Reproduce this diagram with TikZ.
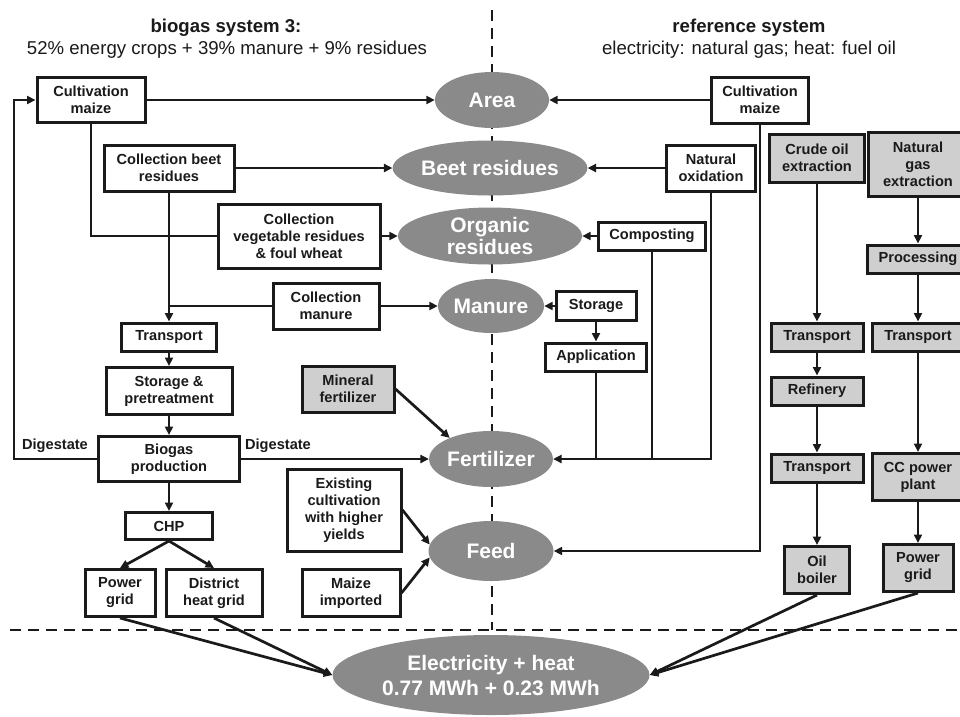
\documentclass[tikz,border=0pt]{standalone}
\usepackage{fontspec}
\setmainfont{Liberation Sans}
\usetikzlibrary{shapes.geometric,arrows.meta,calc}
\definecolor{ovalgray}{HTML}{8A8A8A}
\definecolor{boxgray}{HTML}{CFCFCF}
\definecolor{ink}{HTML}{1A1A1A}
\tikzset{
  box/.style={draw=ink, line width=3pt, fill=white, text=ink, font=\bfseries\fontsize{14.6}{17}\selectfont, align=center, inner sep=0pt},
  gbox/.style={box, fill=boxgray},
  oval/.style={ellipse, draw=none, fill=ovalgray, text=white, font=\bfseries\fontsize{21}{24}\selectfont, align=center, inner sep=0pt},
  arr/.style={draw=ink, line width=2.7pt, -{Triangle[length=8.5pt,width=8pt]}},
  ln/.style={draw=ink, line width=2.7pt},
  sepline/.style={draw=ink, line width=2.8pt, dash pattern=on 11pt off 7pt},
  lbl/.style={text=ink, font=\bfseries\fontsize{14.6}{17}\selectfont, inner sep=0pt},
  ttl/.style={text=ink, font=\fontsize{18.6}{21}\selectfont, inner sep=0pt}
}
\begin{document}
\begin{tikzpicture}[x=1pt,y=-1pt]
\useasboundingbox (0,0) rectangle (960,716);
\fill[white] (0,0) rectangle (960,716);

% separators
\coordinate (vtop) at (492,10);
\coordinate (vbot) at (492,630);
\coordinate (hl) at (10,630);
\coordinate (hr) at (962,630);
\draw[sepline] (vtop) -- (vbot);
\draw[sepline] (hl) -- (hr);

% titles
\node[ttl, font=\bfseries\fontsize{18.6}{21}\selectfont] (t1) at (226,28) {biogas system 3:};
\node[ttl] (t2) at (227,50) {52\% energy crops + 39\% manure + 9\% residues};
\node[ttl, font=\bfseries\fontsize{18.6}{21}\selectfont] (t3) at (749,28) {reference system};
\node[ttl] (t4) at (749,50) {electricity: natural gas; heat: fuel oil};

% ellipses
\node[oval, minimum width=114pt, minimum height=56pt] (area) at (492,100) {Area};
\node[oval, minimum width=183pt, minimum height=55pt] (beetres) at (490,168) {Beet residues};
\node[oval, minimum width=184pt, minimum height=57pt, font=\bfseries\fontsize{21}{22.5}\selectfont] (orgres) at (490,236) {Organic\\residues};
\node[oval, minimum width=106pt, minimum height=54pt] (manure) at (491,306) {Manure};
\node[oval, minimum width=113pt, minimum height=56pt] (fert) at (491,459) {Fertilizer};
\node[oval, minimum width=125pt, minimum height=60pt] (feed) at (491,551) {Feed};
\node[oval, minimum width=317pt, minimum height=80pt, font=\bfseries\fontsize{21}{25}\selectfont] (elec) at (491,675) {Electricity + heat\\0.77 MWh + 0.23 MWh};

% left boxes
\node[box, minimum width=108pt, minimum height=45pt] (cmL) at (91,100) {Cultivation\\maize};
\node[box, minimum width=130pt, minimum height=46pt] (beet) at (169,168) {Collection beet\\residues};
\node[box, minimum width=162pt, minimum height=64pt] (veg) at (299,236) {Collection\\vegetable residues\\\& foul wheat};
\node[box, minimum width=106pt, minimum height=46pt] (cman) at (326,306) {Collection\\manure};
\node[box, minimum width=95pt, minimum height=28pt] (trL) at (169,337) {Transport};
\node[box, minimum width=126pt, minimum height=47pt] (sto) at (169,391) {Storage \&\\pretreatment};
\node[box, minimum width=141pt, minimum height=45pt] (bio) at (169,459) {Biogas\\production};
\node[box, minimum width=87pt, minimum height=27pt] (chp) at (169,526) {CHP};
\node[box, minimum width=70pt, minimum height=47pt] (pgL) at (120,593) {Power\\grid};
\node[box, minimum width=96pt, minimum height=47pt] (dh) at (214,593) {District\\heat grid};
\node[gbox, minimum width=92pt, minimum height=46pt] (mf) at (348,389) {Mineral\\fertilizer};
\node[box, minimum width=114pt, minimum height=82pt] (ex) at (344,510) {Existing\\cultivation\\with higher\\yields};
\node[box, minimum width=98pt, minimum height=47pt] (mi) at (351,593) {Maize\\imported};

% right boxes
\node[box, minimum width=97pt, minimum height=46pt] (cmR) at (760,100) {Cultivation\\maize};
\node[box, minimum width=89pt, minimum height=46pt] (nox) at (711,168) {Natural\\oxidation};
\node[box, minimum width=107pt, minimum height=28pt] (comp) at (652,236) {Composting};
\node[box, minimum width=80pt, minimum height=29pt] (stoR) at (596,306) {Storage};
\node[box, minimum width=101pt, minimum height=28pt] (app) at (596,357) {Application};
\node[gbox, minimum width=95pt, minimum height=48pt] (crude) at (817,158) {Crude oil\\extraction};
\node[gbox, minimum width=100pt, minimum height=64pt] (ngx) at (918,164) {Natural\\gas\\extraction};
\node[gbox, minimum width=102pt, minimum height=28pt] (proc) at (918,259) {Processing};
\node[gbox, minimum width=92pt, minimum height=28pt] (trO) at (817,337) {Transport};
\node[gbox, minimum width=92pt, minimum height=28pt] (trG) at (918,337) {Transport};
\node[gbox, minimum width=92pt, minimum height=28pt] (ref) at (817,391) {Refinery};
\node[gbox, minimum width=92pt, minimum height=28pt] (trO2) at (817,468) {Transport};
\node[gbox, minimum width=92pt, minimum height=47pt] (cc) at (918,477) {CC power\\plant};
\node[gbox, minimum width=65pt, minimum height=47pt] (boiler) at (817,570) {Oil\\boiler};
\node[gbox, minimum width=70pt, minimum height=47pt] (pgR) at (918,568) {Power\\grid};

% labels
\node[lbl] (dg1) at (55,446) {Digestate};
\node[lbl] (dg2) at (278,446) {Digestate};

% left connectors
\coordinate (loop) at (14,459);
\draw[arr] (cmL.east) -- (area.west);
\draw[arr] (bio.west) -- (loop) |- (cmL.west);
\draw[ln] (cmL.south) |- (veg.west);
\draw[arr] (beet.east) -- (beetres.west);
\draw[arr] (beet.south) -- (trL.north);
\draw[arr] (veg.east) -- (orgres.west);
\draw[ln] (cman.west) -- (cman.west -| trL.north);
\draw[arr] (cman.east) -- (manure.west);
\draw[arr] (trL.south) -- (sto.north);
\draw[arr] (sto.south) -- (bio.north);
\draw[arr] (bio.south) -- (chp.north);
\draw[arr] (chp.south) -- (pgL.north);
\draw[arr] (chp.south) -- (dh.north);
\draw[arr] (bio.east) -- (fert.west);
\draw[arr] (mf.east) -- (fert.153);
\draw[arr] (ex.east) -- (feed.174);
\draw[arr] (mi.east) -- (feed.186);

% right connectors
\draw[arr] (cmR.west) -- (area.east);
\draw[arr] (cmR.south) |- (feed.east);
\draw[arr] (nox.west) -- (beetres.east);
\draw[arr] (nox.south) |- (fert.east);
\draw[ln] (comp.south) -- (comp.south |- fert.east);
\draw[ln] (app.south) -- (app.south |- fert.east);
\draw[arr] (comp.west) -- (orgres.east);
\draw[arr] (stoR.west) -- (manure.east);
\draw[arr] (stoR.south) -- (app.north);
\draw[arr] (crude.south) -- (trO.north);
\draw[arr] (trO.south) -- (ref.north);
\draw[arr] (ref.south) -- (trO2.north);
\draw[arr] (trO2.south) -- (boiler.north);
\draw[arr] (ngx.south) -- (proc.north);
\draw[arr] (proc.south) -- (trG.north);
\draw[arr] (trG.south) -- (cc.north);
\draw[arr] (cc.south) -- (pgR.north);

% to electricity + heat
\draw[arr] (pgL.south) -- (elec.west);
\draw[arr] (dh.south) -- (elec.west);
\draw[arr] (boiler.south) -- (elec.east);
\draw[arr] (pgR.south) -- (elec.east);
\end{tikzpicture}
\end{document}
